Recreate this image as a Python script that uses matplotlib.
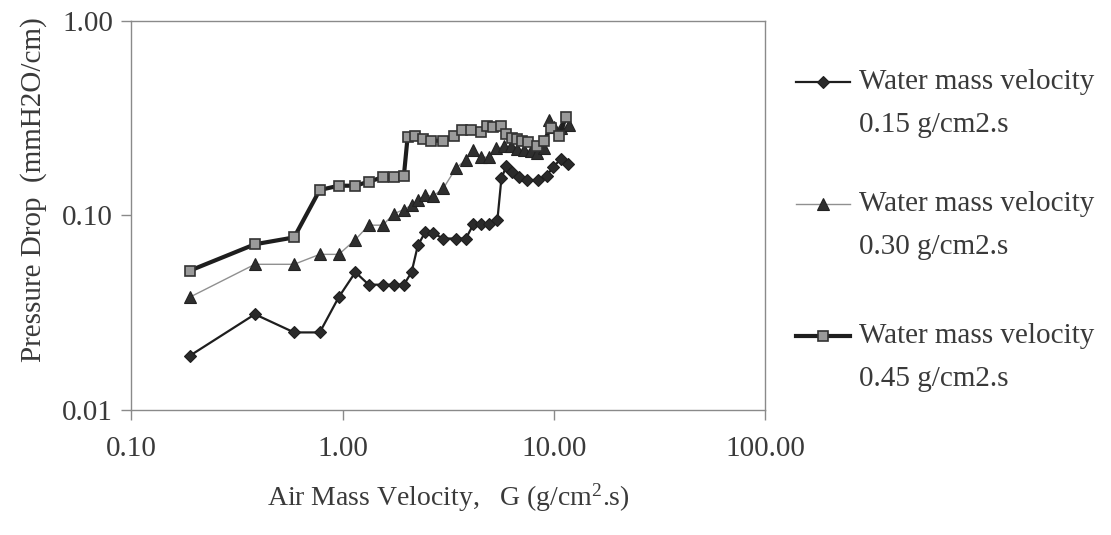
import matplotlib
matplotlib.use("Agg")
import matplotlib.pyplot as plt
from matplotlib.lines import Line2D
from matplotlib.ticker import FixedLocator, NullLocator

plt.rcParams['font.family'] = ['Liberation Serif', 'DejaVu Serif']
plt.rcParams['mathtext.fontset'] = 'custom'
plt.rcParams['mathtext.rm'] = 'Liberation Serif'
plt.rcParams['mathtext.it'] = 'Liberation Serif:italic'

# water mass velocity 0.15 g/cm2.s
g_015 = [0.19, 0.385, 0.59, 0.78, 0.96, 1.15, 1.33, 1.55, 1.75, 1.95, 2.12,
         2.27, 2.46, 2.67, 3.0, 3.44, 3.83, 4.16, 4.53, 4.94, 5.4, 5.64, 5.96,
         6.36, 6.84, 7.48, 8.43, 9.24, 9.93, 10.8, 11.7]
dp_015 = [0.019, 0.031, 0.025, 0.025, 0.038, 0.051, 0.044, 0.044, 0.044,
          0.044, 0.051, 0.070, 0.082, 0.081, 0.076, 0.076, 0.076, 0.090,
          0.090, 0.090, 0.095, 0.155, 0.180, 0.168, 0.157, 0.152, 0.152,
          0.160, 0.178, 0.195, 0.184]

# water mass velocity 0.30 g/cm2.s
g_030 = [0.19, 0.385, 0.59, 0.78, 0.96, 1.15, 1.33, 1.55, 1.75, 1.95, 2.12,
         2.27, 2.46, 2.67, 3.0, 3.44, 3.83, 4.16, 4.53, 4.94, 5.31, 5.81,
         6.25, 6.71, 7.22, 7.76, 8.34, 8.97, 9.47, 10.0, 10.8, 11.8]
dp_030 = [0.038, 0.056, 0.056, 0.063, 0.063, 0.075, 0.089, 0.089, 0.102,
          0.107, 0.113, 0.120, 0.127, 0.125, 0.138, 0.175, 0.193, 0.217,
          0.199, 0.199, 0.221, 0.226, 0.226, 0.220, 0.217, 0.215, 0.209,
          0.222, 0.310, 0.286, 0.282, 0.292]

# water mass velocity 0.45 g/cm2.s
g_045 = [0.19, 0.385, 0.59, 0.78, 0.96, 1.15, 1.33, 1.55, 1.75, 1.95, 2.03,
         2.21, 2.41, 2.62, 2.97, 3.38, 3.69, 4.05, 4.51, 4.82, 5.12, 5.6,
         5.96, 6.31, 6.71, 7.09, 7.57, 8.28, 8.97, 9.64, 10.6, 11.4]
dp_045 = [0.052, 0.071, 0.077, 0.135, 0.142, 0.142, 0.149, 0.157, 0.157,
          0.160, 0.252, 0.256, 0.246, 0.242, 0.242, 0.256, 0.275, 0.275,
          0.268, 0.288, 0.283, 0.288, 0.262, 0.249, 0.246, 0.241, 0.237,
          0.226, 0.241, 0.281, 0.257, 0.322]

labels = ["0.15 g/cm2.s", "0.30 g/cm2.s", "0.45 g/cm2.s"]

x_ticks = [0.1, 1, 10, 100]
x_ticklabels = ["0.10", "1.00", "10.00", "100.00"]
y_ticks = [0.01, 0.1, 1]
y_ticklabels = ["0.01", "0.10", "1.00"]

txt = "#3a3a3a"
frame = "#8a8a8a"

fig = plt.figure(figsize=(11.11, 5.35), dpi=100)
ax = fig.add_axes([0.118, 0.234, 0.571, 0.727])

styles = [
    dict(color="#1e1e1e", lw=1.6, marker="D", ms=6.5, mfc="#2a2a2a",
         mec="#1e1e1e", mew=0.8),
    dict(color="#909090", lw=1.0, marker="^", ms=8.5, mfc="#2f2f2f",
         mec="#222222", mew=0.8),
    dict(color="#1e1e1e", lw=3.0, marker="s", ms=7.5, mfc="#9a9a9a",
         mec="#333333", mew=1.2),
]

ax.plot(g_015, dp_015, **styles[0])
ax.plot(g_030, dp_030, **styles[1])
ax.plot(g_045, dp_045, **styles[2])

ax.set_xscale("log")
ax.set_yscale("log")
ax.set_xlim(0.1, 100)
ax.set_ylim(0.01, 1)
ax.xaxis.set_major_locator(FixedLocator(x_ticks))
ax.yaxis.set_major_locator(FixedLocator(y_ticks))
ax.xaxis.set_minor_locator(NullLocator())
ax.yaxis.set_minor_locator(NullLocator())
ax.set_xticklabels(x_ticklabels)
ax.set_yticklabels(y_ticklabels)
ax.tick_params(axis="both", direction="out", length=7, width=1.0,
               color=frame, labelsize=21, labelcolor=txt)
ax.tick_params(axis="x", pad=12)
ax.tick_params(axis="y", pad=6)
for sp in ax.spines.values():
    sp.set_color(frame)
    sp.set_linewidth(1.0)

ax.set_xlabel("Air Mass Velocity,   G (g/cm$^{2}$.s)", fontsize=20,
              color=txt, labelpad=14)
ax.set_ylabel("Pressure Drop  (mmH2O/cm)", fontsize=21, color=txt)
ax.yaxis.set_label_coords(-0.133, 0.565)

# legend drawn by hand: handle next to the first line of a two-line label
rows = [82, 204, 336]
for st, lab, yr in zip(styles, labels, rows):
    yf = 1 - yr / 535
    fig.add_artist(Line2D([796 / 1111, 823 / 1111, 850 / 1111], [yf] * 3,
                          transform=fig.transFigure, markevery=[1], **st))
    fig.text(859 / 1111, yf, "Water mass velocity", fontsize=21, color=txt,
             ha="left", va="center")
    fig.text(859 / 1111, 1 - (yr + 43) / 535, lab, fontsize=21, color=txt,
             ha="left", va="center")

fig.savefig("out.png", dpi=100)
